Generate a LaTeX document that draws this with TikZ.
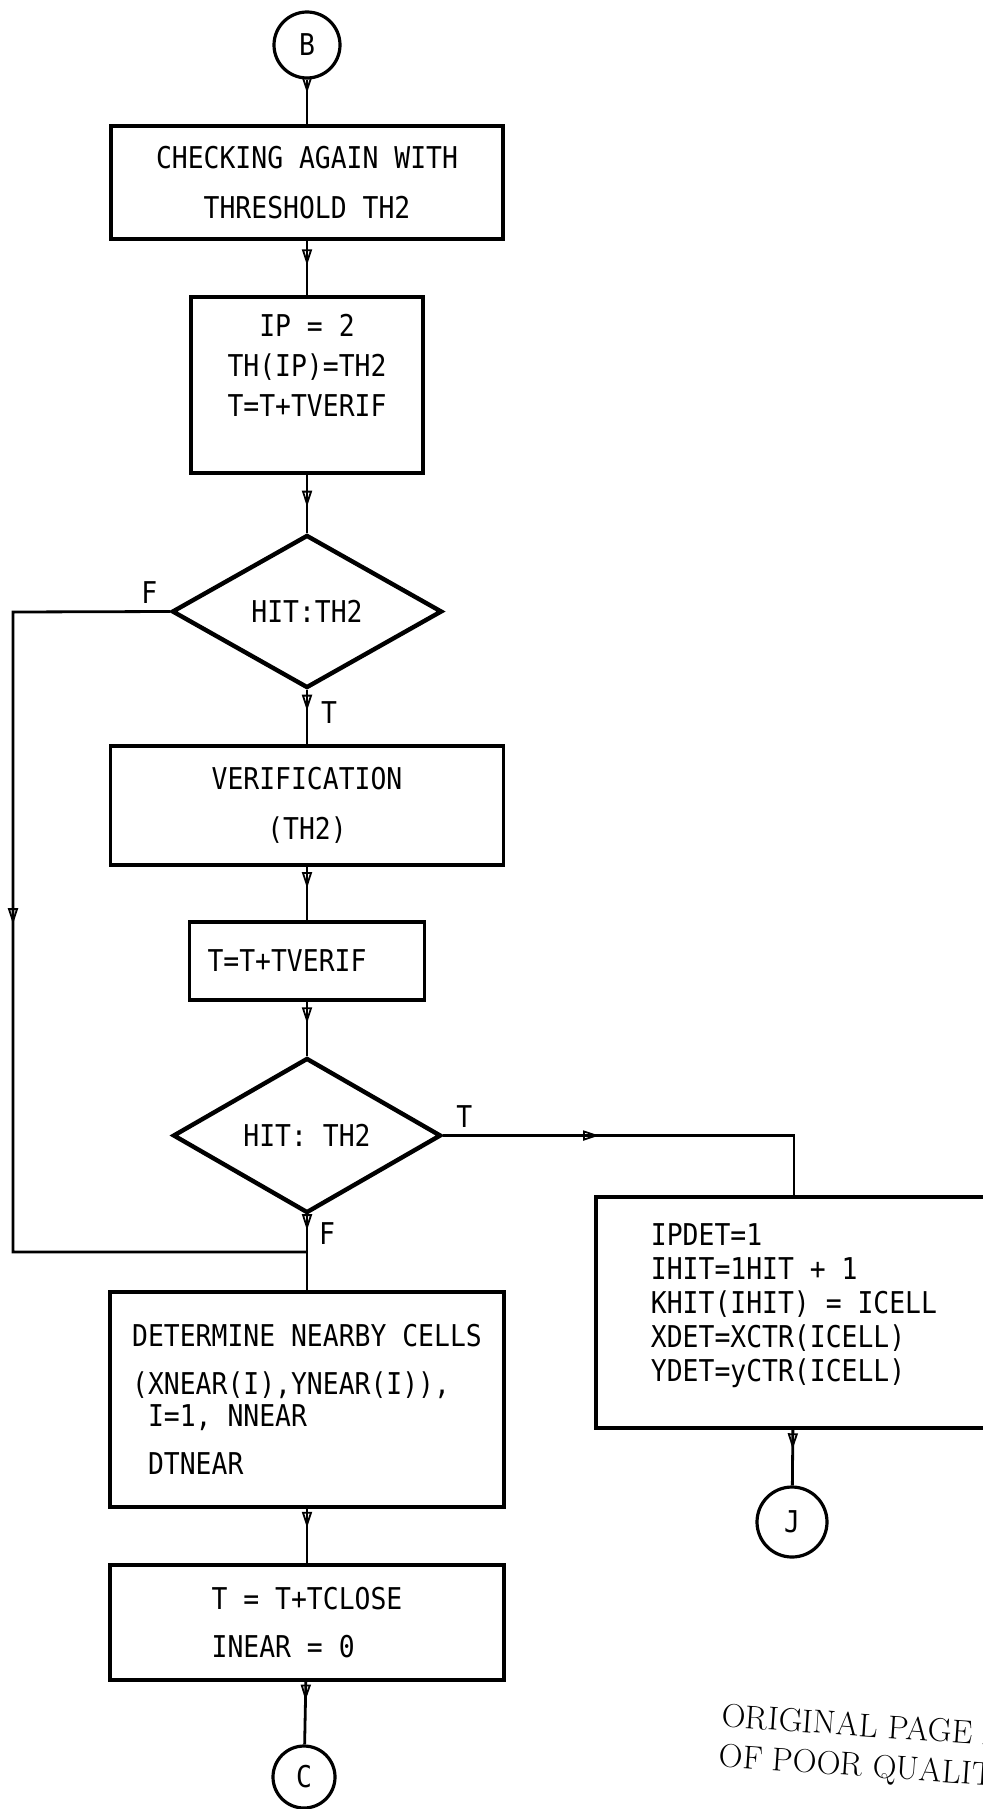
\documentclass[tikz,border=0pt]{standalone}
\usepackage{fontspec}
\usetikzlibrary{shapes.geometric,arrows.meta,decorations.markings}
\newfontfamily\typer[FakeStretch=0.88]{DejaVu Sans Mono}
\newcommand\flowfont{\typer\fontsize{15pt}{20pt}\selectfont}
\begin{document}
\begin{tikzpicture}[x=0.5pt, y=-0.5pt, font=\flowfont,
    box/.style={draw, rectangle, line width=1.8pt, inner sep=0pt},
    cond/.style={draw, diamond, line width=2.2pt, inner sep=0pt},
    conn/.style={draw, circle, line width=1.6pt, inner sep=0pt},
    flow/.style={line width=1.4pt, decoration={markings, mark=at position #1 with {\arrow{Triangle[open, length=8pt, width=5pt, line width=0.9pt]}}}, postaction={decorate}},
    flow/.default=0.5]
                \useasboundingbox (0,0) rectangle (983,1809);
                \clip (0,0) rectangle (983,1809);

                \node[conn, minimum size=33pt] (B) at (307,45) {B};
                \node[box, minimum width=196pt, minimum height=56.5pt, align=center] (check) at (307,182.5) {CHECKING AGAIN WITH\\[5pt]THRESHOLD TH2};
                \node[box, minimum width=116pt, minimum height=88pt, align=center] (init) at (307,385) {IP = 2\\TH(IP)=TH2\\T=T+TVERIF\\\mbox{}};
                \node[cond, minimum width=135pt, minimum height=76.5pt] (hit1) at (307,611.5) {HIT:TH2};
                \node[box, minimum width=196.5pt, minimum height=59.5pt, align=center] (verif) at (307,805.5) {VERIFICATION\\[5pt](TH2)};
                \node[box, minimum width=117.5pt, minimum height=39pt, text width=99.5pt, inner xsep=9pt, align=left] (tverif) at (307,961) {T=T+TVERIF};
                \node[cond, minimum width=134pt, minimum height=77.5pt] (hit2) at (307,1135.5) {HIT: TH2};
                \node[box, minimum width=197pt, minimum height=107.5pt, align=left] (near) at (307,1399.5) {DETERMINE NEARBY CELLS\\[4pt](XNEAR(I),YNEAR(I)),\\[-4pt]\ I=1, NNEAR\\[4pt]\ DTNEAR};
                \node[box, minimum width=197pt, minimum height=57.5pt, align=left] (close) at (307,1622.5) {T = T+TCLOSE\\[4pt]INEAR = 0};
                \node[conn, minimum size=31pt] (C) at (304,1777) {C};
                \node[box, minimum width=198pt, minimum height=115.5pt, align=left] (det) at (794,1312.5) {IPDET=1\\[-3pt]IHIT=1HIT + 1\\[-3pt]KHIT(IHIT) = ICELL\\[-3pt]XDET=XCTR(ICELL)\\[-3pt]YDET=yCTR(ICELL)\\[-10pt]\mbox{}};
                \node[conn, minimum size=35pt] (J) at (792,1522) {J};
                \node[font=\rmfamily\fontsize{16.5pt}{20pt}\selectfont, align=left, anchor=west, rotate=-4, inner sep=0pt] (stamp) at (720,1738) {ORIGINAL PAGE IS\\OF POOR QUALITY};

                \coordinate (loopleft) at (13,612);
                \coordinate (join) at (307,1252);

                \draw[flow=0.3] (B) -- (check);
                \draw[flow=0.45] (check) -- (init);
                \draw[flow=0.55] (init) -- (hit1);
                \draw[flow=0.38] (hit1) -- (verif) node[pos=0.41, right=3pt] (tlab1) {T};
                \draw[flow=0.4] (verif) -- (tverif);
                \draw[flow=0.4] (tverif) -- (hit2);
                \draw[flow=0.2] (hit2) -- (near) node[pos=0.24, right=2pt] (flab2) {F};
                \draw[flow=0.38] (hit2.east) -| (det.north) node[pos=0.03, above] (tlab2) {T};
                \draw[flow=0.43] (hit1.west) -- node[pos=0.13, above] (flab1) {F} (loopleft) |- (join);
                \draw[flow=0.35] (near) -- (close);
                \draw[flow=0.3] (close) -- (C);
                \draw[flow=0.35] (det) -- (J);
            \end{tikzpicture}
\end{document}
